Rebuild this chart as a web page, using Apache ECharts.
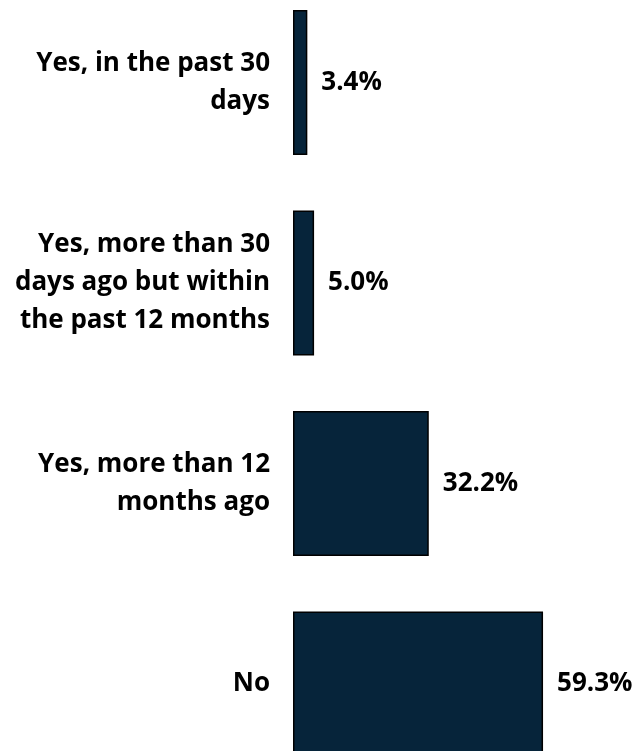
<!DOCTYPE html>
<html>
<head>
<meta charset="utf-8">
<script src="https://cdn.jsdelivr.net/npm/echarts@6/dist/echarts.min.js"></script>
<style>html,body{margin:0;padding:0;background:#fff;}#c{width:639px;height:751px;}</style>
</head>
<body>
<div id="c"></div>
<script>
const categories = [
  "Yes, in the past 30\ndays",
  "Yes, more than 30\ndays ago but within\nthe past 12 months",
  "Yes, more than 12\nmonths ago",
  "No"
];
const values = [3.4, 5.0, 32.2, 59.3];

const chart = echarts.init(document.getElementById('c'), null, {renderer: 'canvas'});
const FONT = '"Open Sans"';
chart.setOption({
  animation: false,
  backgroundColor: '#ffffff',
  grid: {left: 293, width: 253, top: -17.7, height: 802, containLabel: false, outerBoundsMode: 'none'},
  xAxis: {type: 'value', min: 0, max: 60, show: false},
  yAxis: {
    type: 'category', inverse: true, data: categories,
    axisLine: {show: false}, axisTick: {show: false}, splitLine: {show: false},
    axisLabel: {
      margin: 23, align: 'right', color: '#000', fontFamily: FONT, fontWeight: 'bold',
      fontSize: 26, lineHeight: 38
    }
  },
  series: [{
    type: 'bar', data: values, barWidth: 145,
    itemStyle: {color: '#06243a', borderColor: '#000', borderWidth: 1.5},
    label: {
      show: true, position: 'right', distance: 14, color: '#000',
      fontFamily: FONT, fontWeight: 'bold', fontSize: 26,
      formatter: p => p.value.toFixed(1) + '%'
    }
  }]
});
</script>
</body>
</html>
